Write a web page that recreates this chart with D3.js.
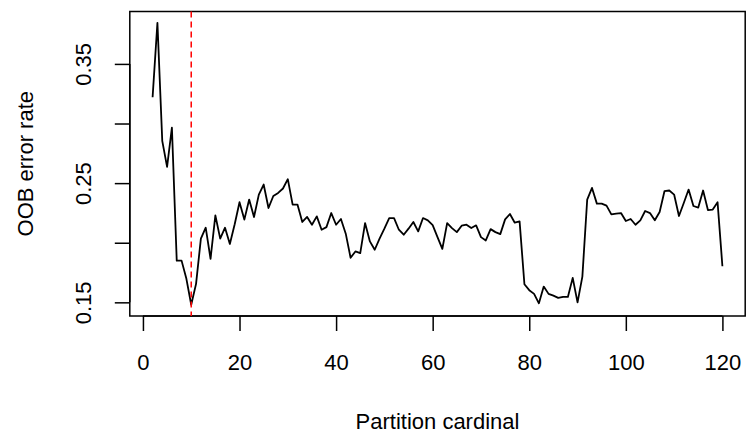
<!DOCTYPE html>
<html>
<head>
<meta charset="utf-8">
<script src="https://cdn.jsdelivr.net/npm/d3@7"></script>
<style>
    body { margin: 0; background: #fff; }
    text { font-family: "Liberation Sans", Arial, sans-serif; }
</style>
</head>
<body>
<div id="chart-area"></div>
<script>
// === Data ===
const cardinals = [2, 3, 4, 5, 6, 7, 8, 9, 10, 11, 12, 13, 14, 15, 16, 17, 18, 19, 20,
    21, 22, 23, 24, 25, 26, 27, 28, 29, 30, 31, 32, 33, 34, 35, 36, 37, 38, 39, 40,
    41, 42, 43, 44, 45, 46, 47, 48, 49, 50, 51, 52, 53, 54, 55, 56, 57, 58, 59, 60,
    61, 62, 63, 64, 65, 66, 67, 68, 69, 70, 71, 72, 73, 74, 75, 76, 77, 78, 79, 80,
    81, 82, 83, 84, 85, 86, 87, 88, 89, 90, 91, 92, 93, 94, 95, 96, 97, 98, 99, 100,
    101, 102, 103, 104, 105, 106, 107, 108, 109, 110, 111, 112, 113, 114, 115, 116, 117, 118, 119, 120];

const oobError = [0.322, 0.3845, 0.2855, 0.2636, 0.2965, 0.185, 0.185, 0.1697, 0.148, 0.1655,
    0.2034, 0.2126, 0.1865, 0.223, 0.2034, 0.2126, 0.199, 0.2155, 0.234,
    0.2194, 0.2362, 0.2216, 0.2404, 0.2488, 0.2291, 0.2392, 0.2418, 0.2455, 0.2533,
    0.232, 0.232, 0.2174, 0.2216, 0.2151, 0.2221, 0.2109, 0.2131, 0.2249, 0.2151,
    0.2199, 0.2076, 0.1874, 0.1927, 0.1913, 0.2165, 0.2011, 0.1941, 0.2034, 0.2118,
    0.2207, 0.2207, 0.2109, 0.2067, 0.2118, 0.2174, 0.2095, 0.2207, 0.2188, 0.2148,
    0.2047, 0.1949, 0.2165, 0.2123, 0.2089, 0.2143, 0.2151, 0.2123, 0.2146, 0.2047,
    0.2019, 0.2114, 0.2089, 0.2072, 0.2196, 0.2241, 0.2168, 0.2179, 0.1652, 0.1602,
    0.1571, 0.1492, 0.1632, 0.1571, 0.1556, 0.1537, 0.1545, 0.1545, 0.1705, 0.150,
    0.1716, 0.2362, 0.246, 0.2328, 0.2328, 0.2311, 0.2238, 0.2244, 0.2249, 0.2182,
    0.2199, 0.2151, 0.2188, 0.2266, 0.2249, 0.2188, 0.2258, 0.2432, 0.2438, 0.2404,
    0.2224, 0.2333, 0.2446, 0.2308, 0.2295, 0.2438, 0.2274, 0.2278, 0.2339, 0.1803];

const bestCardinal = 10;  // position of the red dashed marker

const xTicks = [0, 20, 40, 60, 80, 100, 120];
const yTicks = [0.15, 0.20, 0.25, 0.30, 0.35];
const yTickLabels = ["0.15", "", "0.25", "", "0.35"];  // R drops every other label

const xTitle = "Partition cardinal";
const yTitle = "OOB error rate";

function drawChart() {
    const svgWidth = 746;
    const svgHeight = 436;
    const box = { left: 129.8, right: 745.2, top: 11.5, bottom: 316 };
    const fontSize = 22;

    const svg = d3.select("#chart-area")
        .append("svg")
        .attr("width", svgWidth)
        .attr("height", svgHeight);

    const data = cardinals.map((c, i) => ({ x: c, y: oobError[i] }));

    // R style axis range: data extent padded by 4% on each side
    const pad = (ext) => {
        const d = (ext[1] - ext[0]) * 0.04;
        return [ext[0] - d, ext[1] + d];
    };

    const x = d3.scaleLinear()
        .domain(pad(d3.extent(data, d => d.x)))
        .range([box.left, box.right]);

    const y = d3.scaleLinear()
        .domain(pad(d3.extent(data, d => d.y)))
        .range([box.bottom, box.top]);

    // Bottom axis (ticks outward, labels below)
    const xAxis = svg.append("g")
        .attr("transform", `translate(0,${box.bottom})`)
        .call(d3.axisBottom(x).tickValues(xTicks).tickSize(15).tickPadding(23).tickFormat(d3.format("d")));
    xAxis.select(".domain")
        .attr("d", `M${x(xTicks[0])},0H${x(xTicks[xTicks.length - 1])}`)
        .attr("stroke-width", 1.5);
    xAxis.selectAll(".tick line").attr("stroke-width", 1.5);
    xAxis.selectAll("text")
        .attr("fill", "#000")
        .style("font-size", fontSize + "px");

    // Left axis (labels rotated, like R's las = 0)
    const yAxis = svg.append("g")
        .attr("transform", `translate(${box.left},0)`)
        .call(d3.axisLeft(y).tickValues(yTicks).tickSize(15).tickFormat((d, i) => yTickLabels[i]));
    yAxis.select(".domain")
        .attr("d", `M0,${y(yTicks[0])}V${y(yTicks[yTicks.length - 1])}`)
        .attr("stroke-width", 1.5);
    yAxis.selectAll(".tick line").attr("stroke-width", 1.5);
    yAxis.selectAll("text")
        .attr("x", null)
        .attr("dy", null)
        .attr("fill", "#000")
        .attr("text-anchor", "middle")
        .attr("transform", "translate(-39,0) rotate(-90)")
        .style("font-size", fontSize + "px");

    // Plot box
    svg.append("rect")
        .attr("x", box.left)
        .attr("y", box.top)
        .attr("width", box.right - box.left)
        .attr("height", box.bottom - box.top)
        .attr("fill", "none")
        .attr("stroke", "#000")
        .attr("stroke-width", 1.5);

    // OOB error line
    const line = d3.line()
        .x(d => x(d.x))
        .y(d => y(d.y));

    svg.append("path")
        .datum(data)
        .attr("fill", "none")
        .attr("stroke", "#000")
        .attr("stroke-width", 1.8)
        .attr("stroke-linejoin", "round")
        .attr("d", line);

    // Red dashed marker at the chosen cardinal
    svg.append("line")
        .attr("x1", x(bestCardinal))
        .attr("x2", x(bestCardinal))
        .attr("y1", box.top)
        .attr("y2", box.bottom)
        .attr("stroke", "#ff0000")
        .attr("stroke-width", 1.5)
        .attr("stroke-dasharray", "6,4");

    // Axis titles
    svg.append("text")
        .attr("x", (box.left + box.right) / 2)
        .attr("y", 429)
        .attr("text-anchor", "middle")
        .style("font-size", fontSize + "px")
        .text(xTitle);

    svg.append("text")
        .attr("transform", `translate(33,${(box.top + box.bottom) / 2}) rotate(-90)`)
        .attr("text-anchor", "middle")
        .style("font-size", fontSize + "px")
        .text(yTitle);
}

drawChart();
</script>
</body>
</html>
